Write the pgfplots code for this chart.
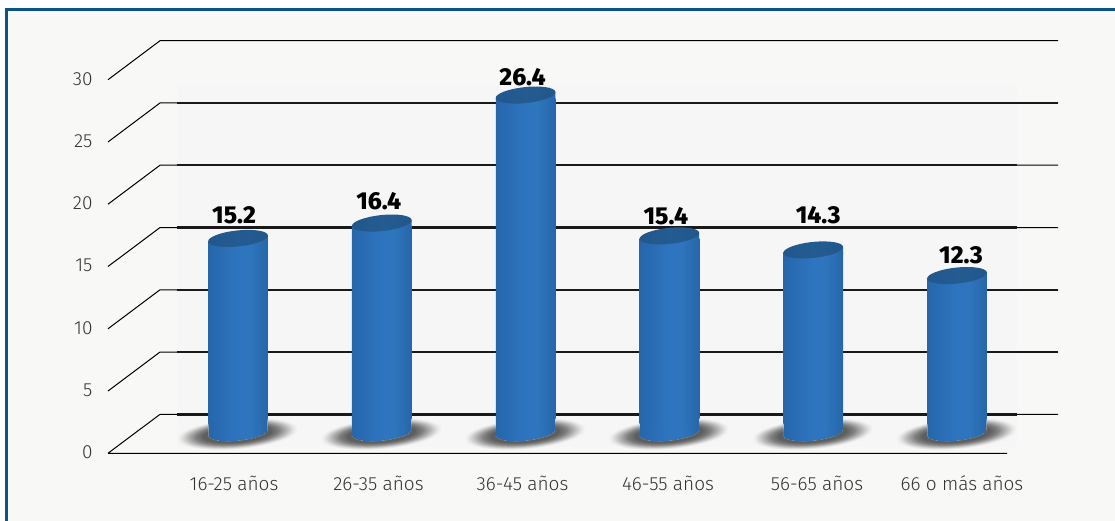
\documentclass[border=0pt]{standalone}
\usepackage{fontspec}
\setmainfont{Fira Sans}
\newfontfamily\lightfont{Fira Sans Light}
\newfontfamily\heavyfont{Fira Sans ExtraBold}
\usepackage{pgfplots}
\pgfplotsset{compat=1.18}

\definecolor{framebg}{HTML}{F8F8F7}
\definecolor{wallbg}{HTML}{F6F6F7}
\definecolor{framelin}{HTML}{0B5285}
\definecolor{txt}{HTML}{333333}

\pgfdeclarehorizontalshading{cylbody}{100bp}{
  rgb(0bp)=(.12,.32,.55); rgb(8bp)=(.13,.36,.60); rgb(25bp)=(.15,.40,.67);
  rgb(50bp)=(.18,.46,.75); rgb(60bp)=(.18,.46,.74); rgb(75bp)=(.15,.40,.66);
  rgb(90bp)=(.12,.32,.53); rgb(100bp)=(.09,.24,.40)}
\pgfdeclarehorizontalshading{cyltopshade}{100bp}{
  rgb(0bp)=(.12,.32,.52); rgb(50bp)=(.14,.36,.57); rgb(100bp)=(.12,.32,.52)}

\newsavebox\captopbox
\newsavebox\capbasebox
\newsavebox\shadowbox
\pgfdeclareplotmark{cyltop}{\pgftext{\usebox\captopbox}}
\pgfdeclareplotmark{cylbase}{\pgftext{\usebox\capbasebox}}
\pgfdeclareplotmark{cylshadow}{\pgftext{\usebox\shadowbox}}

\newcommand{\cyl}[4]{
  \addplot[only marks,mark=cylbase] coordinates {(#1,0)};
  \addplot[ybar,bar shift=0pt,bar width=59.7pt,draw=none,shading=cylbody,yshift=-3pt] coordinates {(#1,#2)};
  \addplot[only marks,mark=cylshadow] coordinates {(#1,0)};
  \addplot[only marks,mark=cyltop,nodes near coords,
    nodes near coords style={anchor=center,xshift=#3,yshift=#4,text=black,
      font=\heavyfont\fontsize{24.5}{24.5}\selectfont,
      /pgf/number format/.cd,fixed,fixed zerofill,precision=1,assume math mode=true}]
    coordinates {(#1,#2)};
}

\begin{document}
% cap of the cylinder, with the slanted piece that joins it to the bar
\sbox\captopbox{\begin{tikzpicture}[x=1pt,y=1pt]
  \useasboundingbox (-35,-12) rectangle (35,12);
  \path[shading=cylbody] (-29.84,-3.14) -- (29.84,3.14) -- (29.84,-4) -- (-29.84,-4) -- cycle;
  \path[shading=cyltopshade,rotate=6] (0,0) ellipse [x radius=30,y radius=8];
\end{tikzpicture}}%
\sbox\capbasebox{\begin{tikzpicture}[x=1pt,y=1pt]
  \useasboundingbox (-35,-12) rectangle (35,12);
  \path[shading=cylbody,rotate=6] (0,0) ellipse [x radius=30,y radius=8];
\end{tikzpicture}}%
% floor shadow, with the bar cut out of it
\sbox\shadowbox{\begin{tikzpicture}[x=1pt,y=1pt]
  \useasboundingbox (-70,-30) rectangle (70,30);
  \begin{scope}[even odd rule]
    \clip (-70,-30) rectangle (70,30)
      (-29.84,30) -- (-29.84,-3.14)
      .. controls ([rotate=6]-30,-4.42) and ([rotate=6]-16.6,-8) .. ([rotate=6]0,-8)
      .. controls ([rotate=6]16.6,-8) and ([rotate=6]30,-4.42) .. ([rotate=6]30,0)
      -- (29.84,30) -- cycle;
    \foreach \f/\c in {1.00/3,0.97/6,0.94/10,0.91/15,0.88/20,0.85/25,0.82/30,0.79/35,0.76/40,0.73/45,0.70/50,0.66/54,0.62/58,0.58/62}
      \fill[black!\c!framebg,rotate=5] (-0.5,-1) ellipse [x radius={60*\f},y radius={15*\f}];
  \end{scope}
\end{tikzpicture}}%
\begin{tikzpicture}
\useasboundingbox (0,0) rectangle (1115pt,521pt);

% panel
\begin{axis}[at={(0pt,0pt)},anchor=south west,scale only axis,width=1115pt,height=521pt,
    xmin=0,xmax=1115,ymin=0,ymax=521,y dir=reverse,hide axis,clip=false]
  \addplot[draw=none,fill=framebg] coordinates {(5,8) (1115,8) (1115,521) (5,521)} -- cycle;
  \addplot[draw=none,fill=wallbg] coordinates {(177,85) (1017,85) (1017,447) (177,447)} -- cycle;
  \addplot[draw=none,fill=framelin] coordinates {(5,8) (1115,8) (1115,11) (5,11)} -- cycle;
  \addplot[draw=none,fill=framelin] coordinates {(5,8) (8,8) (8,521) (5,521)} -- cycle;
\end{axis}

% value axis with the gridlines of the 3D box
\begin{axis}[at={(108pt,67.7pt)},anchor=south west,scale only axis,width=899pt,height=373.6pt,
    xmin=108,xmax=1007,ymin=0,ymax=30,clip=false,unbounded coords=jump,
    axis line style={draw=none},tick style={draw=none},
    ytick={0,5,10,15,20,25,30},
    xtick={234,378.5,522.5,668,817,962},
    xticklabels={16-25 años,26-35 años,36-45 años,46-55 años,56-65 años,66 o más años},
    /pgf/number format/assume math mode=true,
    tick label style={text=txt,font=\lightfont\fontsize{19}{19}\selectfont},
    yticklabel style={xshift=-12pt,yshift=1pt},
    xticklabel style={yshift=-19pt}]
  \addplot[black,line width=1pt] coordinates {
    (108,0) (160,3.13) (1058,3.13) (0,nan)
    (108,5) (160,8.13) (1058,8.13) (0,nan)
    (108,10) (160,13.13) (1058,13.13) (0,nan)
    (108,15) (160,18.13) (1058,18.13) (0,nan)
    (108,20) (160,23.13) (1058,23.13) (0,nan)
    (108,25) (160,28.13) (1058,28.13) (0,nan)
    (108,30) (160,33.13) (1058,33.13) (0,nan)
    (108,0) (1007,0)};
  \addplot[black!90,line width=3pt] coordinates {
    (177,3.13) (1017,3.13) (0,nan)
    (177,18.13) (1017,18.13)};
  \addplot[black!90,line width=2.2pt] coordinates {
    (177,8.13) (1058,8.13) (0,nan)
    (177,13.13) (1058,13.13) (0,nan)
    (177,23.13) (1017,23.13) (0,nan)
    (177,28.13) (1058,28.13)};
\end{axis}

% cylinders
\begin{axis}[at={(166.1pt,88pt)},anchor=south west,scale only axis,width=862.8pt,height=384pt,
    xmin=-0.5,xmax=5.5,ymin=0,ymax=30,hide axis,clip=false]
  \cyl{0}{15.2}{-4pt}{23pt}
  \cyl{1}{16.4}{-3pt}{22pt}
  \cyl{2}{26.4}{-3pt}{18pt}
  \cyl{3}{15.4}{-3.5pt}{20pt}
  \cyl{4}{14.3}{5pt}{35pt}
  \cyl{5}{12.3}{4pt}{20pt}
\end{axis}
\end{tikzpicture}
\end{document}
